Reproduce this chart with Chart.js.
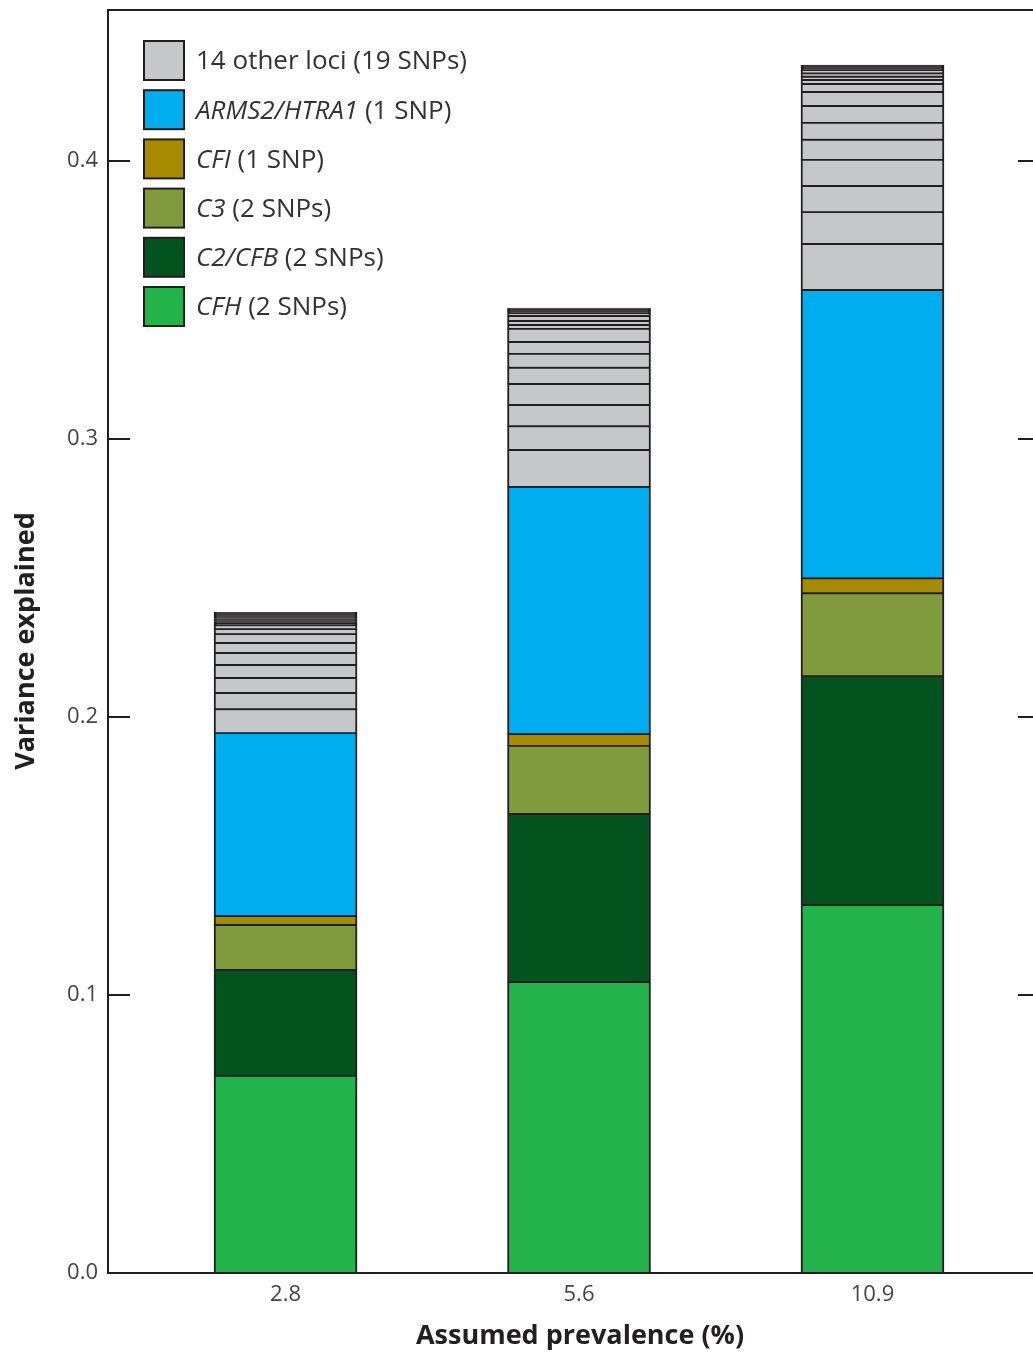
<!DOCTYPE html>
<html>
<head>
<meta charset="utf-8">
<script src="https://cdn.jsdelivr.net/npm/chart.js@4/dist/chart.umd.min.js"></script>
<style>
  html, body { margin: 0; padding: 0; background: #fff; }
</style>
</head>
<body>
<canvas id="chart" width="1033" height="1353"></canvas>
<script>
// categories (assumed prevalence, %)
const prevalence = ['2.8', '5.6', '10.9'];

// variance explained per locus, one value per prevalence
const cfh   = [0.0709, 0.1047, 0.1324];
const c2cfb = [0.0381, 0.0604, 0.0823];
const c3    = [0.0162, 0.0245, 0.0298];
const cfi   = [0.0032, 0.0043, 0.0054];
const arms2 = [0.0658, 0.0888, 0.1037];

// 19 SNPs of the 14 other loci, bottom to top
const otherLoci = [
    [0.0086, 0.0133, 0.0165],
    [0.0058, 0.0086, 0.0115],
    [0.0054, 0.0076, 0.0094],
    [0.0047, 0.0076, 0.0094],
    [0.0043, 0.0058, 0.0072],
    [0.0036, 0.0050, 0.0061],
    [0.0032, 0.0043, 0.0061],
    [0.0018, 0.0047, 0.0050],
    [0.0014, 0.0014, 0.0029],
    [0.0007, 0.0014, 0.0014],
    [0.00065, 0.0018, 0.0012],
    [0.00058, 0.0011, 0.0012],
    [0.0005, 0.00036, 0.0012],
    [0.00047, 0.00032, 0.0004],
    [0.00043, 0.00029, 0.00036],
    [0.0004, 0.00025, 0.00032],
    [0.00036, 0.00022, 0.00029],
    [0.00029, 0.00018, 0.00022],
    [0.00029, 0.00018, 0.00022]
];

const yTicks = [0, 0.1, 0.2, 0.3, 0.4];

// legend, top to bottom: [italic gene, plain note]
const legendItems = [
    ['', '14 other loci (19 SNPs)'],
    ['ARMS2/HTRA1', ' (1 SNP)'],
    ['CFI', ' (1 SNP)'],
    ['C3', ' (2 SNPs)'],
    ['C2/CFB', ' (2 SNPs)'],
    ['CFH', ' (2 SNPs)']
];
const legendColors = ['#c6c7c9', '#00aeef', '#a68a00', '#7f9b3d', '#03531f', '#24b24b'];

const FONT = "'Open Sans', 'Noto Sans', sans-serif";
const INK = '#231f20';

function seg(label, values, color) {
    return {
        label: label,
        data: values.map((v, i) => ({ x: i, y: v })),
        // slivers thinner than the outline just show as outline
        backgroundColor: ctx => {
            const y = ctx.chart.scales.y;
            const v = ctx.raw ? ctx.raw.y : 0;
            return (y && y.getPixelForValue(0) - y.getPixelForValue(v) < 2.6) ? INK : color;
        },
        borderColor: INK,
        borderWidth: { top: 1.3, bottom: 1.3, left: 2, right: 2 },
        borderSkipped: false,
        barThickness: 143
    };
}

const datasets = [
    seg('CFH', cfh, '#24b24b'),
    seg('C2/CFB', c2cfb, '#03531f'),
    seg('C3', c3, '#7f9b3d'),
    seg('CFI', cfi, '#a68a00'),
    seg('ARMS2/HTRA1', arms2, '#00aeef')
];
otherLoci.forEach((row, k) => datasets.push(seg('other ' + (k + 1), row, '#c6c7c9')));

// frame, inward ticks, legend and axis titles
const decorations = {
    id: 'decorations',
    afterDraw(chart) {
        const { ctx, chartArea: a, scales: { y } } = chart;
        ctx.save();
        ctx.strokeStyle = INK;
        ctx.lineWidth = 2;
        ctx.beginPath();
        ctx.moveTo(a.right + 2, a.top);
        ctx.lineTo(a.left, a.top);
        ctx.lineTo(a.left, a.bottom);
        ctx.lineTo(a.right + 2, a.bottom);
        yTicks.slice(1).forEach(v => {
            const py = Math.round(y.getPixelForValue(v));
            ctx.moveTo(a.left, py);
            ctx.lineTo(a.left + 22, py);
            ctx.moveTo(a.right - 15, py);
            ctx.lineTo(a.right, py);
        });
        ctx.stroke();

        // legend
        legendItems.forEach((item, i) => {
            const top = 41 + i * 49.2;
            ctx.fillStyle = legendColors[i];
            ctx.fillRect(144, top, 40, 39);
            ctx.lineWidth = 2;
            ctx.strokeRect(144, top, 40, 39);
            ctx.fillStyle = '#333';
            ctx.textBaseline = 'middle';
            ctx.textAlign = 'left';
            let x = 196;
            const ty = top + 21;
            if (item[0]) {
                ctx.font = 'italic 26px ' + FONT;
                ctx.fillText(item[0], x, ty);
                x += ctx.measureText(item[0]).width;
            }
            ctx.font = '26px ' + FONT;
            ctx.fillText(item[1], x, ty);
        });

        // axis titles
        ctx.fillStyle = INK;
        ctx.font = 'bold 27px ' + FONT;
        ctx.textAlign = 'center';
        ctx.textBaseline = 'middle';
        ctx.fillText('Assumed prevalence (%)', 580, 1336);
        ctx.translate(26, 641);
        ctx.rotate(-Math.PI / 2);
        ctx.fillText('Variance explained', 0, 0);
        ctx.restore();
    }
};

new Chart(document.getElementById('chart'), {
    type: 'bar',
    data: { datasets: datasets },
    options: {
        responsive: false,
        animation: false,
        layout: { padding: { top: 10, right: 0, bottom: 0, left: 0 } },
        plugins: { legend: { display: false }, tooltip: { enabled: false } },
        scales: {
            x: {
                type: 'linear',
                stacked: true,
                offset: false,
                min: -0.605,
                max: 2.547,
                afterBuildTicks: s => { s.ticks = prevalence.map((_, i) => ({ value: i })); },
                afterFit: s => { s.height = 80; s.paddingLeft = 0; s.paddingRight = 0; },
                grid: { display: false, drawTicks: false },
                border: { display: false },
                ticks: {
                    callback: v => prevalence[v],
                    autoSkip: false,
                    maxRotation: 0,
                    padding: 9,
                    color: '#444',
                    font: { family: FONT, size: 22 }
                }
            },
            y: {
                stacked: true,
                min: 0,
                max: 0.4543,
                afterBuildTicks: s => { s.ticks = yTicks.map(v => ({ value: v })); },
                afterFit: s => { s.width = 108; s.paddingTop = 0; s.paddingBottom = 0; },
                grid: { display: false, drawTicks: false },
                border: { display: false },
                ticks: {
                    callback: v => v.toFixed(1),
                    padding: 10,
                    color: '#444',
                    font: { family: FONT, size: 22 }
                }
            }
        }
    },
    plugins: [decorations]
});
</script>
</body>
</html>
